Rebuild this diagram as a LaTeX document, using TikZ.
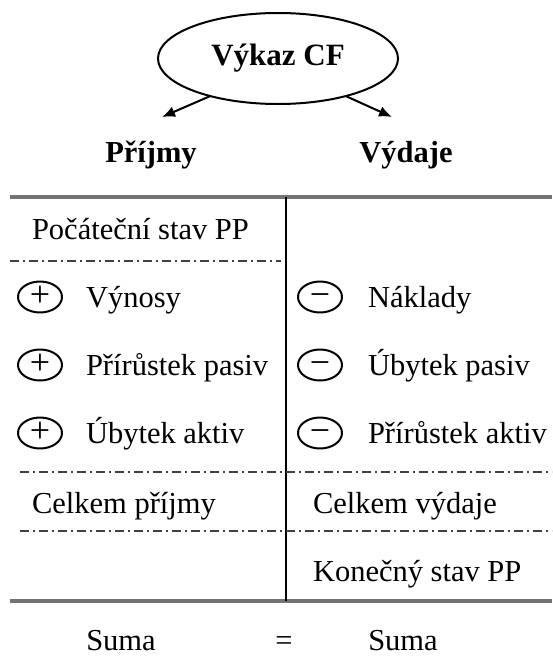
\documentclass[tikz,border=0pt]{standalone}
\usepackage{fontspec}
\setmainfont{Liberation Serif}
\usetikzlibrary{arrows.meta, positioning, shapes.geometric}

\begin{document}
\begin{tikzpicture}[x=1pt, y=-1pt, outer sep=0pt, font=\fontsize{30.5}{36}\selectfont]
    \tikzstyle{txt} = [anchor=base west, inner sep=0pt]
    \tikzstyle{item} = [anchor=west, inner sep=0pt, text height=24pt, text depth=4pt]
    \tikzstyle{head} = [anchor=base, inner sep=0pt, font=\fontsize{30.5}{36}\selectfont\bfseries]
    \tikzstyle{sign} = [ellipse, draw, line width=2pt, minimum width=44pt, minimum height=31pt, inner sep=0pt, text height=18pt, text depth=0pt, font=\fontsize{36}{36}\selectfont]
    \tikzstyle{rule} = [line width=3.5pt, black!55]
    \tikzstyle{split} = [line width=2pt, black!75, dash pattern=on 9pt off 4pt on 2pt off 4pt]
    \tikzstyle{arr} = [line width=2pt, -{Latex[length=13pt, width=11pt]}]
    \useasboundingbox (0,0) rectangle (552,659);
    % ellipse and the two sides
    \node[ellipse, draw, line width=2pt, minimum width=240pt, minimum height=91pt, inner sep=0pt, font=\fontsize{31}{36}\selectfont\bfseries] (cf) at (278,58.5) {Výkaz CF};
    \coordinate (inTip) at (162,117);
    \coordinate (outTip) at (392,117);
    \draw[arr] (cf.209) -- (inTip);
    \draw[arr] (cf.-29) -- (outTip);
    \node[head] (prijmy) at (151,162) {Příjmy};
    \node[head] (vydaje) at (406,162) {Výdaje};
    % table lines
    \draw[rule] (10,197) -- (552,197);
    \draw[rule] (10,601) -- (552,601);
    \draw[line width=2pt] (286,197) -- (286,601);
    \draw[split] (10,261) -- (281,261);
    \draw[split] (20,472) -- (552,472);
    \draw[split] (20,531) -- (552,531);
    % left column
    \node[txt] (pocatek) at (32,239) {Počáteční stav PP};
    \node[sign] (p1) at (40,297) {+};
    \node[sign] (p2) at (40,365) {+};
    \node[sign] (p3) at (40,433) {+};
    \node[item, right=24pt of p1] (vynosy) {Výnosy};
    \node[item, right=24pt of p2] (prirPasiv) {Přírůstek pasiv};
    \node[item, right=24pt of p3] (ubAktiv) {Úbytek aktiv};
    \node[txt] (celkPrij) at (32,513) {Celkem příjmy};
    % right column
    \node[sign] (m1) at (320,297) {−};
    \node[sign] (m2) at (320,365) {−};
    \node[sign] (m3) at (320,433) {−};
    \node[item, right=26pt of m1] (naklady) {Náklady};
    \node[item, right=26pt of m2] (ubPasiv) {Úbytek pasiv};
    \node[item, right=26pt of m3] (prirAktiv) {Přírůstek aktiv};
    \node[txt] (celkVyd) at (313,513) {Celkem výdaje};
    \node[txt] (konec) at (313,581) {Konečný stav PP};
    % sums
    \node[head, font=\fontsize{30.5}{36}\selectfont] (sumaL) at (121,650) {Suma};
    \node[head, font=\fontsize{30.5}{36}\selectfont] (rovno) at (284,650) {=};
    \node[head, font=\fontsize{30.5}{36}\selectfont] (sumaR) at (403,650) {Suma};
\end{tikzpicture}
\end{document}
